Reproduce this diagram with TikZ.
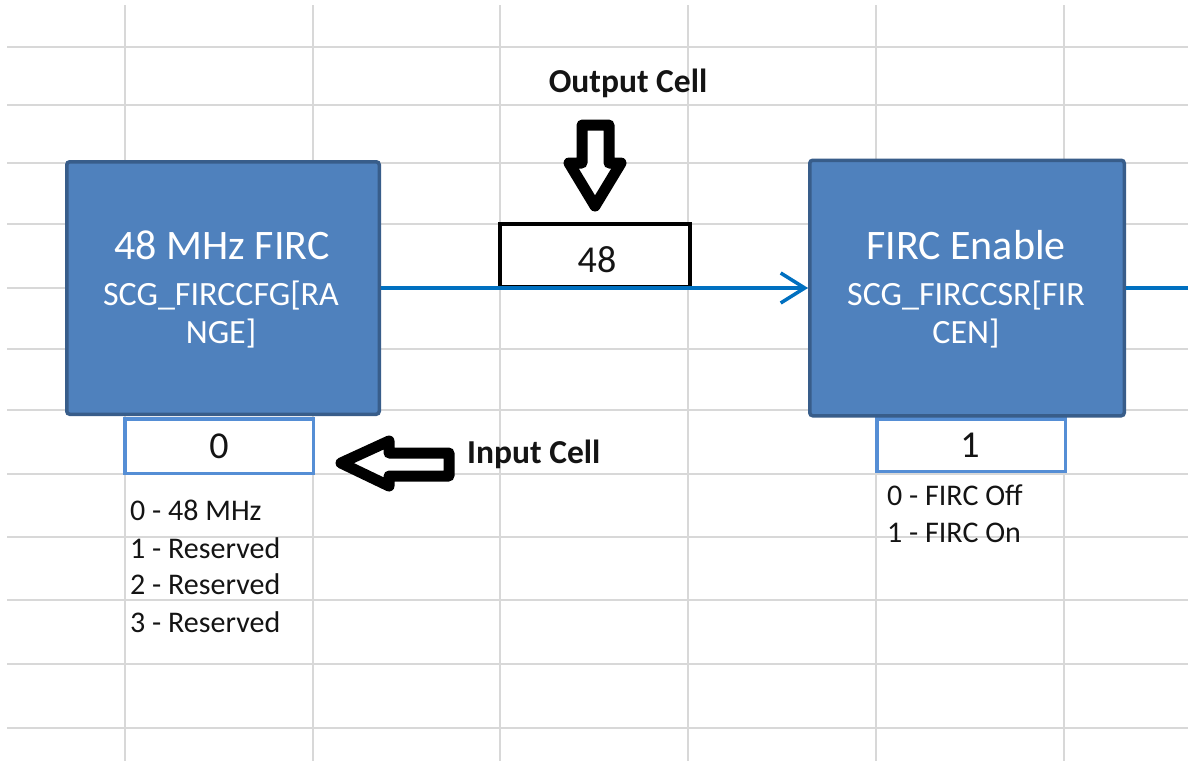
\documentclass[tikz,border=0pt]{standalone}
\usepackage{fontspec}
\setmainfont{Carlito}
\usetikzlibrary{arrows.meta}
\definecolor{gridc}{RGB}{216,216,216}
\definecolor{boxfill}{RGB}{79,129,189}
\definecolor{boxdraw}{RGB}{56,93,138}
\definecolor{cellblue}{RGB}{85,142,213}
\definecolor{connblue}{RGB}{0,112,192}
\definecolor{txt}{RGB}{20,20,20}
\begin{document}
\begin{tikzpicture}[x=1pt,y=-1pt,
  gridline/.style={draw=gridc, line width=2.5pt},
  block/.style={draw=boxdraw, fill=boxfill, line width=3.5pt, rounded corners=3pt, inner sep=0pt},
  title/.style={text=white, font=\fontsize{42}{50}\selectfont, anchor=base, inner sep=0pt},
  reg/.style={text=white, font=\fontsize{34}{40}\selectfont, anchor=base, inner sep=0pt},
  incell/.style={draw=cellblue, fill=white, line width=3.5pt, inner sep=0pt},
  outcell/.style={draw=black, fill=white, line width=4pt, inner sep=0pt},
  val/.style={text=txt, font=\fontsize{38}{44}\selectfont, anchor=base, inner sep=0pt},
  listtxt/.style={text=txt, font=\fontsize{30}{34}\selectfont, anchor=base west, inner sep=0pt},
  lbl/.style={text=txt, font=\bfseries\fontsize{33.5}{38}\selectfont, inner sep=0pt},
  hollow/.style={draw=black, fill=white, line width=11pt, line join=round},
  conn/.style={draw=connblue, line width=3.5pt}]
\useasboundingbox (0,0) rectangle (1188,761);
\fill[white] (0,0) rectangle (1188,761);
% grid
\foreach \y in {47,105,163,224,288,349,410,474,537,600,664,728}
  \draw[gridline] (7,\y) -- (1188,\y);
\foreach \x in {125,313,500,688,876,1064}
  \draw[gridline] (\x,5) -- (\x,761);
% input cells
\node[incell, minimum width=188.5pt, minimum height=54.5pt] (inL) at (219,446) {};
\node[incell, minimum width=188.5pt, minimum height=52.5pt] (inR) at (971,445) {};
% blocks
\node[block, minimum width=312.5pt, minimum height=252.5pt] (L) at (223,288) {};
\node[block, minimum width=314.5pt, minimum height=255.5pt] (R) at (967,288) {};
% output cell
\node[outcell, minimum width=190pt, minimum height=63pt] (out) at (595,255.5) {};
% connectors
\draw[conn, -{Straight Barb[length=24pt, width=30pt]}] (L.east) -- (R.west);
\coordinate (rend) at (1188,288);
\draw[conn] (R.east) -- (rend);
% hollow arrows
\draw[hollow] (582,125) -- (609,125) -- (609,163) -- (621,163) -- (595,206) -- (569,163) -- (582,163) -- cycle;
\draw[hollow] (341,463) -- (389,441) -- (389,453) -- (449,453) -- (449,476) -- (389,476) -- (389,486) -- cycle;
% block texts
\node[title] (Lt) at (222,259) {48 MHz FIRC};
\node[reg] (Lr1) at (221,305) {SCG\_FIRCCFG[RA};
\node[reg] (Lr2) at (221,343) {NGE]};
\node[title] (Rt) at (966,259) {FIRC Enable};
\node[reg] (Rr1) at (966,305) {SCG\_FIRCCSR[FIR};
\node[reg] (Rr2) at (966,343) {CEN]};
% values
\node[val] (v0) at (219,458) {0};
\node[val] (v1) at (970,457) {1};
\node[val] (v48) at (597,272) {48};
% labels
\node[lbl, anchor=base] (olbl) at (628,92) {Output Cell};
\node[lbl, anchor=base west] (ilbl) at (467,463) {Input Cell};
% lists
\node[listtxt] (l0) at (130,520) {0 - 48 MHz};
\node[listtxt] (l1) at (130,558) {1 - Reserved};
\node[listtxt] (l2) at (130,594) {2 - Reserved};
\node[listtxt] (l3) at (130,632) {3 - Reserved};
\node[listtxt] (r0) at (887,505) {0 - FIRC Off};
\node[listtxt] (r1) at (887,542) {1 - FIRC On};
\end{tikzpicture}
\end{document}
